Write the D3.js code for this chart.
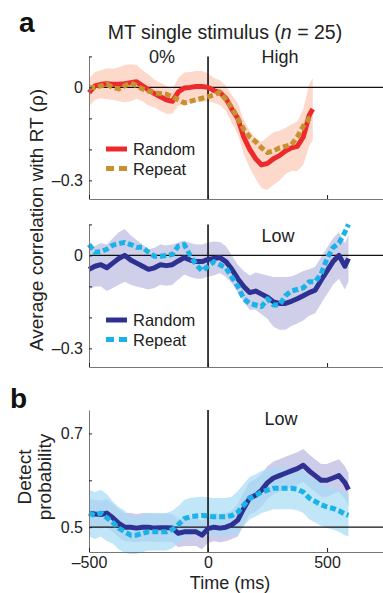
<!DOCTYPE html>
<html>
<head>
<meta charset="utf-8">
<script src="https://cdn.jsdelivr.net/npm/d3@7"></script>
<style>
body { margin: 0; background: #fff; }
svg { display: block; font-family: "Liberation Sans", Arial, sans-serif; }
</style>
</head>
<body>
<script>
// time bins (ms from stimulus change)
const timeHigh = [-500,-475,-450,-425,-400,-375,-350,-325,-300,-275,-250,-225,-200,-175,-150,-125,-100,-75,-50,-25,
  0,25,50,75,100,125,150,175,200,225,250,275,300,325,350,375,400,425,440];
const timeLow = [-500,-475,-450,-425,-400,-375,-350,-325,-300,-275,-250,-225,-200,-175,-150,-125,-100,-75,-50,-25,
  0,25,50,75,100,125,150,175,200,225,250,275,300,325,350,375,400,425,450,475,500,525,550,575,590];

// panel a, high coherence (correlation with RT)
const highRandom = [-0.017,0.005,0.01,0.012,0.01,0.01,0.012,0.015,0.018,0.005,-0.008,-0.02,-0.03,-0.04,-0.045,-0.015,-0.002,0,0.003,0.003,
  0,-0.01,-0.017,-0.035,-0.07,-0.10,-0.16,-0.20,-0.23,-0.25,-0.245,-0.23,-0.22,-0.205,-0.195,-0.19,-0.16,-0.09,-0.07];
const highRepeat = [0,0,0.005,0.01,0,-0.005,0.005,0.015,0.005,-0.005,-0.012,-0.017,-0.02,-0.022,-0.03,-0.04,-0.05,-0.045,-0.04,-0.035,
  -0.03,-0.025,-0.015,-0.04,-0.065,-0.10,-0.135,-0.16,-0.175,-0.195,-0.21,-0.205,-0.195,-0.19,-0.185,-0.16,-0.125,-0.10,-0.095];
const highSem = [0.045,0.045,0.045,0.05,0.05,0.055,0.06,0.06,0.055,0.05,0.05,0.045,0.045,0.045,0.04,0.045,0.05,0.05,0.05,0.05,
  0.045,0.04,0.04,0.04,0.045,0.05,0.055,0.06,0.065,0.075,0.085,0.085,0.08,0.075,0.075,0.08,0.09,0.1,0.1];

// panel a, low coherence
const lowRandom = [-0.045,-0.035,-0.03,-0.04,-0.025,-0.01,0,-0.015,-0.025,-0.035,-0.045,-0.04,-0.03,-0.033,-0.03,-0.018,-0.007,-0.015,-0.02,-0.02,
  -0.013,-0.01,-0.007,-0.02,-0.045,-0.075,-0.10,-0.12,-0.115,-0.125,-0.135,-0.15,-0.155,-0.155,-0.148,-0.14,-0.13,-0.12,-0.112,-0.08,-0.05,-0.02,0,-0.035,-0.01];
const lowRepeat = [0.035,0.01,0.012,0.02,0.033,0.038,0.042,0.035,0.026,0.026,0.01,-0.003,-0.003,0,0.003,0.03,0.035,0,-0.03,-0.05,
  -0.035,-0.02,-0.03,-0.04,-0.07,-0.10,-0.14,-0.155,-0.16,-0.165,-0.14,-0.16,-0.16,-0.13,-0.115,-0.11,-0.105,-0.085,-0.085,-0.06,-0.01,0.025,0.04,0.075,0.1];
const lowSem = [0.065,0.065,0.07,0.075,0.08,0.085,0.085,0.08,0.075,0.07,0.065,0.065,0.065,0.065,0.065,0.06,0.055,0.055,0.055,0.055,
  0.055,0.055,0.05,0.05,0.045,0.045,0.05,0.055,0.06,0.065,0.07,0.08,0.085,0.085,0.08,0.08,0.08,0.075,0.075,0.075,0.075,0.075,0.075,0.075,0.075];

// panel b, detect probability (low coherence)
const detRandom = [0.53,0.528,0.527,0.53,0.52,0.508,0.5,0.5,0.498,0.5,0.5,0.498,0.499,0.499,0.498,0.487,0.49,0.49,0.49,0.483,
  0.497,0.5,0.498,0.5,0.505,0.515,0.54,0.562,0.568,0.579,0.595,0.605,0.61,0.615,0.62,0.625,0.632,0.62,0.61,0.6,0.6,0.605,0.61,0.595,0.58];
const detRepeat = [0.53,0.525,0.53,0.52,0.51,0.498,0.49,0.483,0.483,0.487,0.49,0.49,0.49,0.49,0.495,0.505,0.518,0.522,0.524,0.525,
  0.524,0.522,0.522,0.522,0.525,0.532,0.547,0.562,0.568,0.575,0.579,0.583,0.583,0.583,0.583,0.581,0.575,0.562,0.555,0.548,0.543,0.54,0.535,0.528,0.525];
const detSemRandom = [0.03,0.03,0.03,0.03,0.03,0.03,0.03,0.03,0.03,0.03,0.03,0.03,0.03,0.03,0.03,0.03,0.03,0.03,0.03,0.03,
  0.03,0.03,0.03,0.03,0.03,0.035,0.035,0.035,0.035,0.035,0.035,0.035,0.035,0.035,0.035,0.035,0.035,0.035,0.035,0.035,0.035,0.035,0.035,0.035,0.035];
const detSemRepeat = [0.05,0.05,0.05,0.05,0.045,0.045,0.045,0.04,0.04,0.04,0.04,0.04,0.04,0.04,0.04,0.04,0.04,0.04,0.04,0.04,
  0.04,0.04,0.04,0.04,0.04,0.045,0.045,0.045,0.045,0.045,0.045,0.045,0.045,0.045,0.045,0.045,0.045,0.045,0.045,0.045,0.045,0.045,0.045,0.045,0.045];

const width = 383, height = 593;
const font = '"Liberation Sans", Arial, sans-serif';

const svg = d3.select('body').append('svg')
  .attr('width', width)
  .attr('height', height);

const x = d3.scaleLinear().domain([-500, 735]).range([89, 383]);
const yHigh = d3.scaleLinear().domain([-0.36, 0.1]).range([199, 56.4]);
const yLow = d3.scaleLinear().domain([-0.36, 0.1]).range([367, 224.4]);
const yDet = d3.scaleLinear().domain([0.447, 0.75]).range([552, 410]);

const fmt = d => d < 0 ? '\u2013' + Math.abs(d) : String(d);

function band(time, mean, sem, y, fill, opacity) {
  const area = d3.area()
    .x((d, i) => x(time[i]))
    .y0((d, i) => y(mean[i] - sem[i]))
    .y1((d, i) => y(mean[i] + sem[i]));
  svg.append('path').datum(mean)
    .attr('d', area)
    .attr('fill', fill)
    .attr('fill-opacity', opacity);
}

function trace(time, mean, y, color, dash) {
  const line = d3.line().x((d, i) => x(time[i])).y(d => y(d));
  svg.append('path').datum(mean)
    .attr('d', line)
    .attr('fill', 'none')
    .attr('stroke', color)
    .attr('stroke-width', 5)
    .attr('stroke-linejoin', 'round')
    .attr('stroke-dasharray', dash ? '6,3' : null);
}

function refLines(y, level) {
  svg.append('line')
    .attr('x1', x(-500)).attr('x2', x(735))
    .attr('y1', y(level)).attr('y2', y(level))
    .attr('stroke', '#111').attr('stroke-width', 1.4);
  svg.append('line')
    .attr('x1', x(0)).attr('x2', x(0))
    .attr('y1', y.range()[0]).attr('y2', y.range()[1])
    .attr('stroke', '#111').attr('stroke-width', 1.6);
}

function axes(y, yTicks, yLabeled, xLabeled) {
  const gy = svg.append('g')
    .attr('transform', `translate(${x(-500)},0)`)
    .call(d3.axisLeft(y).tickValues(yTicks).tickSizeInner(-3).tickSizeOuter(0).tickPadding(6)
      .tickFormat(d => yLabeled.includes(d) ? fmt(d) : ''));
  const gx = svg.append('g')
    .attr('transform', `translate(0,${y.range()[0]})`)
    .call(d3.axisBottom(x).tickValues([-500, 0, 500]).tickSizeInner(-4).tickSizeOuter(0).tickPadding(5)
      .tickFormat(d => xLabeled ? fmt(d) : ''));
  [gy, gx].forEach(g => {
    g.attr('font-family', font).attr('font-size', 16);
    g.select('.domain').attr('stroke', '#777');
    g.selectAll('.tick line').attr('stroke', '#222');
    g.selectAll('.tick text').attr('fill', '#222');
  });
}

function legend(yTop, items) {
  items.forEach((it, i) => {
    const yy = yTop + i * 19.5;
    svg.append('line')
      .attr('x1', 106).attr('x2', 127)
      .attr('y1', yy).attr('y2', yy)
      .attr('stroke', it.color).attr('stroke-width', 5)
      .attr('stroke-dasharray', it.dash ? '8,5' : null);
    svg.append('text')
      .attr('x', 133).attr('y', yy + 6)
      .attr('font-size', 16.5).attr('fill', '#222')
      .text(it.label);
  });
}

function label(txt, xx, yy, size, extra) {
  const t = svg.append('text')
    .attr('x', xx).attr('y', yy)
    .attr('font-size', size).attr('fill', '#222')
    .attr('text-anchor', 'middle')
    .text(txt);
  if (extra) extra(t);
  return t;
}

const red = '#ec2a2c', gold = '#c8902e', navy = '#2e3192', cyan = '#1ab3e8';

// panel a top: high coherence
band(timeHigh, highRandom, highSem, yHigh, '#fdd9cc', 1);
refLines(yHigh, 0);
trace(timeHigh, highRandom, yHigh, red, false);
trace(timeHigh, highRepeat, yHigh, gold, true);
axes(yHigh, [-0.3, -0.2, -0.1, 0, 0.1], [0, -0.3], false);
legend(149, [{ label: 'Random', color: red }, { label: 'Repeat', color: gold, dash: true }]);

// panel a bottom: low coherence
band(timeLow, lowRandom, lowSem, yLow, '#cfcfea', 1);
refLines(yLow, 0);
trace(timeLow, lowRandom, yLow, navy, false);
trace(timeLow, lowRepeat, yLow, cyan, true);
axes(yLow, [-0.3, -0.2, -0.1, 0, 0.1], [0, -0.3], false);
legend(320, [{ label: 'Random', color: navy }, { label: 'Repeat', color: cyan, dash: true }]);

// panel b: detect probability
band(timeLow, detRandom, detSemRandom, yDet, '#c4c4e6', 0.85);
band(timeLow, detRepeat, detSemRepeat, yDet, '#a6dcf5', 0.7);
refLines(yDet, 0.5);
trace(timeLow, detRandom, yDet, navy, false);
trace(timeLow, detRepeat, yDet, cyan, true);
axes(yDet, [0.5, 0.6, 0.7], [0.5, 0.7], true);

// texts
label('a', 19, 32, 28, t => t.attr('text-anchor', 'start').attr('font-weight', 'bold').attr('fill', '#111'));
label('b', 10, 408, 28, t => t.attr('text-anchor', 'start').attr('font-weight', 'bold').attr('fill', '#111'));

const title = label('', 225, 39, 19.5);
title.append('tspan').text('MT single stimulus (');
title.append('tspan').attr('font-style', 'italic').text('n');
title.append('tspan').text(' = 25)');

label('0%', 162, 63, 18);
label('High', 280, 63, 18);
label('Low', 278, 242, 18);
label('Low', 281, 425, 18);

label('Average correlation with RT (\u03c1)', 0, 0, 19, t => t.attr('transform', 'translate(43,220) rotate(-90)'));
label('Detect', 0, 0, 19, t => t.attr('transform', 'translate(31,477) rotate(-90)'));
label('probability', 0, 0, 19, t => t.attr('transform', 'translate(51,477) rotate(-90)'));
label('Time (ms)', 230, 589, 18);
</script>
</body>
</html>
